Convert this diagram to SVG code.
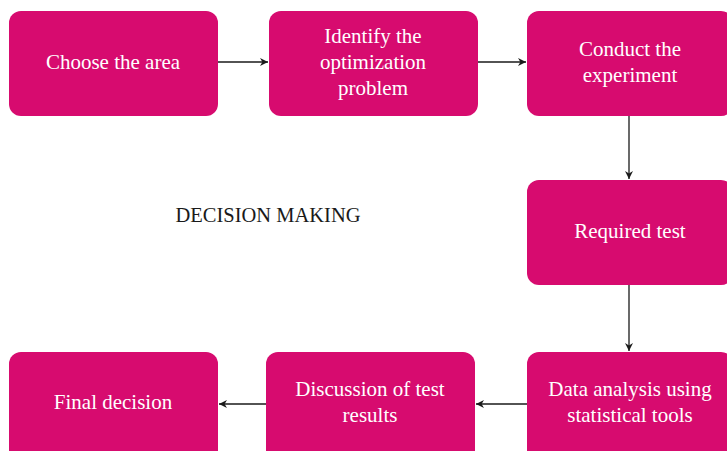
<svg xmlns="http://www.w3.org/2000/svg" width="727" height="451" viewBox="0 0 727 451">
  <style>
    .box { fill: #d70b6f; }
    .lbl { font-family: "Liberation Serif", "DejaVu Serif", serif; font-size: 21px; fill: #ffffff; text-anchor: middle; }
    .title { font-family: "Liberation Serif", "DejaVu Serif", serif; font-size: 20.5px; fill: #1a1a1a; text-anchor: middle; }
    .conn { stroke: #1a1a1a; stroke-width: 1.3; fill: none; marker-end: url(#arrow); }
  </style>
  <defs>
    <marker id="arrow" viewBox="0 0 10 10" refX="10" refY="5" markerWidth="8" markerHeight="8" markerUnits="userSpaceOnUse" orient="auto">
      <path d="M0,0 L10,5 L0,10 L3,5 Z" fill="#1a1a1a"/>
    </marker>
  </defs>

  <rect width="727" height="451" fill="#ffffff"/>

  <g id="connectors">
    <line class="conn" x1="218" y1="62" x2="268" y2="62"/>
    <line class="conn" x1="478" y1="62" x2="526" y2="62"/>
    <line class="conn" x1="629" y1="116" x2="629" y2="179"/>
    <line class="conn" x1="629" y1="285" x2="629" y2="351"/>
    <line class="conn" x1="527" y1="404" x2="476" y2="404"/>
    <line class="conn" x1="266" y1="404" x2="219" y2="404"/>
  </g>

  <g id="choose-area">
    <rect class="box" x="9" y="11" width="209" height="105" rx="12"/>
    <text class="lbl" x="113" y="69">Choose the area</text>
  </g>

  <g id="identify-problem">
    <rect class="box" x="269" y="11" width="209" height="105" rx="12"/>
    <text class="lbl" x="373" y="43">Identify the</text>
    <text class="lbl" x="373" y="69">optimization</text>
    <text class="lbl" x="373" y="95">problem</text>
  </g>

  <g id="conduct-experiment">
    <rect class="box" x="527" y="11" width="206" height="105" rx="12"/>
    <text class="lbl" x="630" y="56">Conduct the</text>
    <text class="lbl" x="630" y="82">experiment</text>
  </g>

  <g id="decision-making">
    <text class="title" x="268" y="222">DECISION MAKING</text>
  </g>

  <g id="required-test">
    <rect class="box" x="527" y="180" width="206" height="105" rx="12"/>
    <text class="lbl" x="630" y="238">Required test</text>
  </g>

  <g id="data-analysis">
    <rect class="box" x="527" y="352" width="206" height="110" rx="12"/>
    <text class="lbl" x="630" y="396">Data analysis using</text>
    <text class="lbl" x="630" y="422">statistical tools</text>
  </g>

  <g id="discussion">
    <rect class="box" x="266" y="352" width="209" height="110" rx="12"/>
    <text class="lbl" x="370" y="396">Discussion of test</text>
    <text class="lbl" x="370" y="422">results</text>
  </g>

  <g id="final-decision">
    <rect class="box" x="9" y="352" width="209" height="110" rx="12"/>
    <text class="lbl" x="113" y="409">Final decision</text>
  </g>
</svg>
